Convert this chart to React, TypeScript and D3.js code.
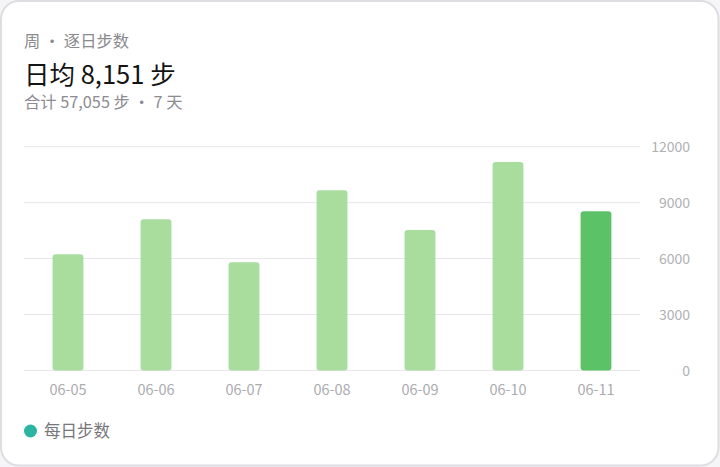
import React from 'react';
import * as d3 from 'd3';

const days = ['06-05', '06-06', '06-07', '06-08', '06-09', '06-10', '06-11'];
const steps = [6230, 8110, 5810, 9660, 7530, 11180, 8535];
const yTicks = [0, 3000, 6000, 9000, 12000];

const W = 720;
const H = 467;
const FONT = '"Noto Sans CJK SC", "Noto Sans", sans-serif';

export default function App() {
    const x = d3.scaleBand<string>().domain(days).range([24, 640]).paddingInner(0.65).paddingOuter(0.325);
    const y = d3.scaleLinear().domain([0, 12000]).range([370.5, 146.7]);

    const total = d3.sum(steps);
    const avg = Math.round(total / steps.length);
    const fmt = d3.format(',');

    return (
        <svg width={W} height={H} style={{ position: 'absolute', left: 0, top: 0, display: 'block', fontFamily: FONT, background: '#f5f5f7' }}>
            <rect x={1} y={1} width={W - 2.5} height={H - 2.5} rx={18} fill="#fff" stroke="#dedee2" strokeWidth={2} />

            <text x={24} y={47} fontSize={16.3} fill="#8a8a8f">周 · 逐日步数</text>
            <text x={24} y={84} fontSize={25.5} fill="#141414">日均 {fmt(avg)} 步</text>
            <text x={24} y={108} fontSize={16.3} fill="#8c8c91">合计 {fmt(total)} 步 · {steps.length} 天</text>

            {yTicks.map(t => (
                <g key={t}>
                    <line x1={24} x2={640} y1={y(t)} y2={y(t)} stroke="#e6e6e8" strokeWidth={1} />
                    <text x={690} y={y(t)} dy="0.36em" textAnchor="end" fontSize={14} fill="#b0b0b5">{t}</text>
                </g>
            ))}

            {days.map((d, i) => (
                <rect
                    key={d}
                    x={x(d)}
                    y={y(steps[i])}
                    width={x.bandwidth()}
                    height={y(0) - y(steps[i])}
                    rx={3}
                    fill={i === days.length - 1 ? '#5cc267' : '#a8dd9d'}
                />
            ))}

            {days.map(d => (
                <text key={d} x={(x(d) ?? 0) + x.bandwidth() / 2} y={395} textAnchor="middle" fontSize={14.5} fill="#ababb0">{d}</text>
            ))}

            <circle cx={30.5} cy={431} r={6.5} fill="#2bb5a0" />
            <text x={44} y={437} fontSize={16.5} fill="#76767b">每日步数</text>
        </svg>
    );
}
